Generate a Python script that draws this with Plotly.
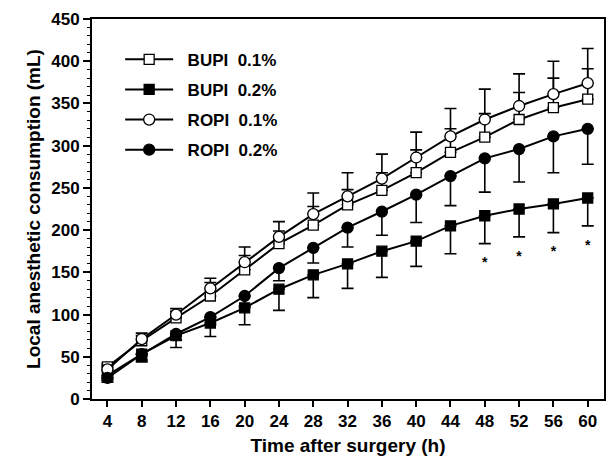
import plotly.graph_objects as go

hours = [4, 8, 12, 16, 20, 24, 28, 32, 36, 40, 44, 48, 52, 56, 60]

bupi01_mean = [38, 69, 96, 122, 153, 184, 206, 230, 247, 268, 292, 310, 331, 345, 355]
bupi01_sd = [4, 6, 8, 16, 17, 15, 22, 18, 21, 27, 28, 28, 32, 35, 36]

bupi02_mean = [28, 53, 75, 90, 108, 130, 147, 160, 175, 187, 205, 217, 225, 231, 238]
bupi02_sd = [6, 9, 14, 16, 20, 25, 27, 29, 31, 30, 33, 33, 33, 34, 33]

ropi01_mean = [35, 71, 100, 131, 162, 192, 219, 240, 261, 286, 311, 331, 347, 361, 374]
ropi01_sd = [5, 7, 7, 12, 18, 18, 25, 28, 29, 30, 33, 36, 38, 39, 41]

ropi02_mean = [25, 53, 77, 97, 122, 155, 179, 203, 222, 242, 264, 285, 296, 311, 320]
ropi02_sd = [5, 7, 7, 9, 12, 15, 18, 23, 28, 33, 35, 40, 39, 43, 42]

sig_hours = [48, 52, 56, 60]

names = ["BUPI 0.1%", "BUPI 0.2%", "ROPI 0.1%", "ROPI 0.2%"]

FONT = "Arial, Liberation Sans, Helvetica, sans-serif"
NB = "\u00a0"

fig = go.Figure()

def add(name, mean, sd, hollow, symbol, upward, size, group):
    zeros = [0] * len(sd)
    err = dict(type="data", symmetric=False,
               array=sd if upward else zeros,
               arrayminus=zeros if upward else sd,
               color="black", thickness=1.6, width=6)
    label = NB * 2 + name.replace(" ", NB * 2)
    fig.add_trace(go.Scatter(
        x=hours, y=mean, name=label, mode="lines+markers",
        line=dict(color="black", width=2),
        marker=dict(symbol=symbol, size=size, color="white" if hollow else "black",
                    line=dict(color="black", width=1.3)),
        error_y=err, legendgroup=group,
    ))

add(names[0], bupi01_mean, bupi01_sd, True, "square", True, 10, "g1")
add(names[1], bupi02_mean, bupi02_sd, False, "square", False, 10, "g2")
add(names[2], ropi01_mean, ropi01_sd, True, "circle", True, 11, "g3")
add(names[3], ropi02_mean, ropi02_sd, False, "circle", False, 11, "g4")

# significance asterisks below BUPI 0.2% error bars
sig_y = []
for h in sig_hours:
    i = hours.index(h)
    sig_y.append(bupi02_mean[i] - bupi02_sd[i] - 24)
fig.add_trace(go.Scatter(
    x=sig_hours, y=sig_y, mode="text", text=["*"] * len(sig_hours),
    textfont=dict(family=FONT, size=14, color="black"),
    showlegend=False, hoverinfo="skip",
))

fig.update_layout(
    width=612, height=461,
    margin=dict(l=92, r=6, t=19, b=62),
    paper_bgcolor="white", plot_bgcolor="white",
    font=dict(family=FONT, color="black", size=17, weight="bold"),
    showlegend=True,
    legend=dict(
        x=0.055, y=0.94, xanchor="left", yanchor="top",
        bgcolor="rgba(0,0,0,0)", borderwidth=0,
        font=dict(family=FONT, size=17, color="black", weight="bold"),
        tracegroupgap=5, itemwidth=48,
    ),
    xaxis=dict(
        range=[2.2, 61.9], tickmode="array", tickvals=hours,
        ticks="outside", ticklen=6, tickwidth=2, tickcolor="black",
        showline=True, linewidth=2, linecolor="black", mirror=True,
        showgrid=False, zeroline=False,
        tickfont=dict(family=FONT, size=17, weight="bold"),
        title=dict(text="Time after surgery (h)", standoff=8,
                   font=dict(family=FONT, size=19, weight="bold")),
    ),
    yaxis=dict(
        range=[0, 450], dtick=50, tick0=0,
        ticks="outside", ticklen=7, tickwidth=2, tickcolor="black",
        minor=dict(dtick=10, ticks="outside", ticklen=3, tickwidth=1, tickcolor="black", showgrid=False),
        showline=True, linewidth=2, linecolor="black", mirror=True,
        showgrid=False, zeroline=False,
        tickfont=dict(family=FONT, size=17, weight="bold"),
        title=dict(text="Local anesthetic consumption (mL)", standoff=6,
                   font=dict(family=FONT, size=19, weight="bold")),
    ),
)

fig.write_html("out.html")
